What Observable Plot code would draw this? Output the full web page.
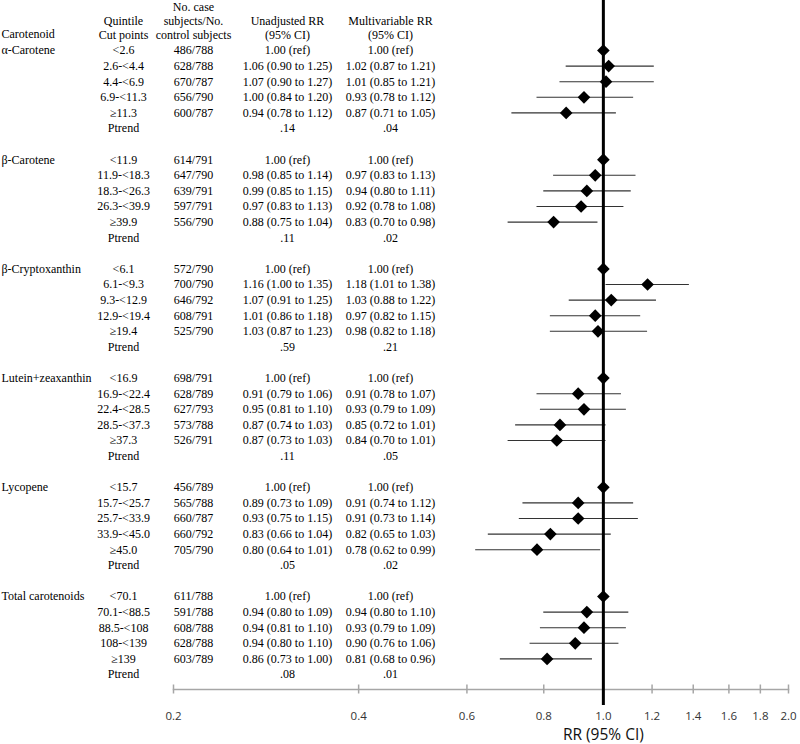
<!DOCTYPE html>
<html>
<head>
<meta charset="utf-8">
<script src="https://cdn.jsdelivr.net/npm/d3@7"></script>
<script src="https://cdn.jsdelivr.net/npm/@observablehq/plot@0.6"></script>
<style>
  html, body { margin: 0; padding: 0; background: #fff; }
  #chart svg { display: block; }
</style>
</head>
<body>
<div id="chart"></div>
<script>
const carotenoids = ["α-Carotene", "β-Carotene", "β-Cryptoxanthin", "Lutein+zeaxanthin", "Lycopene", "Total carotenoids"];

const cutPoints = [
  ["<2.6", "2.6-<4.4", "4.4-<6.9", "6.9-<11.3", "≥11.3"],
  ["<11.9", "11.9-<18.3", "18.3-<26.3", "26.3-<39.9", "≥39.9"],
  ["<6.1", "6.1-<9.3", "9.3-<12.9", "12.9-<19.4", "≥19.4"],
  ["<16.9", "16.9-<22.4", "22.4-<28.5", "28.5-<37.3", "≥37.3"],
  ["<15.7", "15.7-<25.7", "25.7-<33.9", "33.9-<45.0", "≥45.0"],
  ["<70.1", "70.1-<88.5", "88.5-<108", "108-<139", "≥139"]
];

const caseControl = [
  ["486/788", "628/788", "670/787", "656/790", "600/787"],
  ["614/791", "647/790", "639/791", "597/791", "556/790"],
  ["572/790", "700/790", "646/792", "608/791", "525/790"],
  ["698/791", "628/789", "627/793", "573/788", "526/791"],
  ["456/789", "565/788", "660/787", "660/792", "705/790"],
  ["611/788", "591/788", "608/788", "628/788", "603/789"]
];

const unadjRR = [
  [1.00, 1.06, 1.07, 1.00, 0.94],
  [1.00, 0.98, 0.99, 0.97, 0.88],
  [1.00, 1.16, 1.07, 1.01, 1.03],
  [1.00, 0.91, 0.95, 0.87, 0.87],
  [1.00, 0.89, 0.93, 0.83, 0.80],
  [1.00, 0.94, 0.94, 0.94, 0.86]
];
const unadjLow = [
  [null, 0.90, 0.90, 0.84, 0.78],
  [null, 0.85, 0.85, 0.83, 0.75],
  [null, 1.00, 0.91, 0.86, 0.87],
  [null, 0.79, 0.81, 0.74, 0.73],
  [null, 0.73, 0.75, 0.66, 0.64],
  [null, 0.80, 0.81, 0.80, 0.73]
];
const unadjHigh = [
  [null, 1.25, 1.27, 1.20, 1.12],
  [null, 1.14, 1.15, 1.13, 1.04],
  [null, 1.35, 1.25, 1.18, 1.23],
  [null, 1.06, 1.10, 1.03, 1.03],
  [null, 1.09, 1.15, 1.04, 1.01],
  [null, 1.09, 1.10, 1.10, 1.00]
];

const multiRR = [
  [1.00, 1.02, 1.01, 0.93, 0.87],
  [1.00, 0.97, 0.94, 0.92, 0.83],
  [1.00, 1.18, 1.03, 0.97, 0.98],
  [1.00, 0.91, 0.93, 0.85, 0.84],
  [1.00, 0.91, 0.91, 0.82, 0.78],
  [1.00, 0.94, 0.93, 0.90, 0.81]
];
const multiLow = [
  [null, 0.87, 0.85, 0.78, 0.71],
  [null, 0.83, 0.80, 0.78, 0.70],
  [null, 1.01, 0.88, 0.82, 0.82],
  [null, 0.78, 0.79, 0.72, 0.70],
  [null, 0.74, 0.73, 0.65, 0.62],
  [null, 0.80, 0.79, 0.76, 0.68]
];
const multiHigh = [
  [null, 1.21, 1.21, 1.12, 1.05],
  [null, 1.13, 1.11, 1.08, 0.98],
  [null, 1.38, 1.22, 1.15, 1.18],
  [null, 1.07, 1.09, 1.01, 1.01],
  [null, 1.12, 1.14, 1.03, 0.99],
  [null, 1.10, 1.09, 1.06, 0.96]
];

const pTrendUnadj = [0.14, 0.11, 0.59, 0.11, 0.05, 0.08];
const pTrendMulti = [0.04, 0.02, 0.21, 0.05, 0.02, 0.01];

const xTicks = [0.2, 0.4, 0.6, 0.8, 1.0, 1.2, 1.4, 1.6, 1.8, 2.0];
const xLabel = "RR (95% CI)";

const headerCarotenoid = "Carotenoid";
const headerQuintile = "Quintile\nCut points";
const headerCases = "No. case\nsubjects/No.\ncontrol subjects";
const headerUnadj = "Unadjusted RR\n(95% CI)";
const headerMulti = "Multivariable RR\n(95% CI)";
const pTrendLabel = "Ptrend";

// ---- build table ----
const f2 = d3.format(".2f");
const rrText = (rr, lo, hi) => lo == null ? `${f2(rr)} (ref)` : `${f2(rr)} (${f2(lo)} to ${f2(hi)})`;
const pText = p => f2(p).replace(/^0/, "");

const rowsPerGroup = 7; // 5 quintiles + Ptrend + blank
const rows = [];
const ptrendRows = [];
carotenoids.forEach((name, g) => {
  cutPoints[g].forEach((cut, r) => {
    rows.push({
      row: g * rowsPerGroup + r,
      name: r === 0 ? name : "",
      cut,
      cases: caseControl[g][r],
      unadj: rrText(unadjRR[g][r], unadjLow[g][r], unadjHigh[g][r]),
      multi: rrText(multiRR[g][r], multiLow[g][r], multiHigh[g][r]),
      rr: multiRR[g][r],
      lo: multiLow[g][r],
      hi: multiHigh[g][r]
    });
  });
  ptrendRows.push({
    row: g * rowsPerGroup + 5,
    label: pTrendLabel,
    pu: pText(pTrendUnadj[g]),
    pm: pText(pTrendMulti[g])
  });
});
const ciRows = rows.filter(d => d.lo != null);

const serif = "Liberation Serif";
const sans = "Open Sans";
const tx = {fontFamily: serif, fontSize: 12, fill: "#000", textAnchor: "middle"};

// column centres relative to frame left (x = 173)
const colName = -172, colCut = -50, colCases = 20, colUnadj = 114, colMulti = 217;

const chart = Plot.plot({
  width: 800,
  height: 744,
  marginLeft: 173,
  marginRight: 12,
  marginTop: 0,
  marginBottom: 55,
  x: {type: "log", domain: [0.2, 2]},
  y: {domain: [0, 40], range: [50, 674], axis: null},
  style: {background: "#fff", overflow: "visible"},
  marks: [
    // axis baseline + ticks
    Plot.frame({anchor: "bottom", stroke: "#a6a6a6", strokeWidth: 1.5}),
    Plot.ruleX(xTicks, {stroke: "#a6a6a6", strokeWidth: 1.5, insetTop: 684.5, insetBottom: -4.5}),
    Plot.axisX({ticks: xTicks, tickFormat: d3.format(".1f"), tickSize: 0, tickPadding: 22,
      label: null, fontFamily: sans, fontSize: 11.5, color: "#333"}),
    Plot.text([xLabel], {x: () => 1, text: d => d, frameAnchor: "bottom", dy: 46, lineAnchor: "middle",
      fontFamily: sans, fontSize: 15.5, fill: "#111"}),

    // CI lines
    Plot.ruleY(ciRows, {y: "row", x1: "lo", x2: "hi", stroke: "#333", strokeWidth: 1.1}),
    // reference line at RR = 1
    Plot.ruleX([1], {stroke: "#000", strokeWidth: 3, insetBottom: -16}),
    // point estimates
    Plot.dot(rows, {x: "rr", y: "row", symbol: "diamond2", r: 5.7, fill: "#000", stroke: null}),

    // headers
    Plot.text([headerCarotenoid], {text: d => d, frameAnchor: "top-left", dx: colName, dy: 28.5, lineAnchor: "top", ...tx, textAnchor: "start"}),
    Plot.text([headerQuintile], {text: d => d, frameAnchor: "top-left", dx: colCut, dy: 14.5, lineAnchor: "top", lineHeight: 14 / 12, ...tx}),
    Plot.text([headerCases], {text: d => d, frameAnchor: "top-left", dx: colCases, dy: 0.5, lineAnchor: "top", lineHeight: 14 / 12, ...tx}),
    Plot.text([headerUnadj], {text: d => d, frameAnchor: "top-left", dx: colUnadj, dy: 14.5, lineAnchor: "top", lineHeight: 14 / 12, ...tx}),
    Plot.text([headerMulti], {text: d => d, frameAnchor: "top-left", dx: colMulti, dy: 14.5, lineAnchor: "top", lineHeight: 14 / 12, ...tx}),

    // table body
    Plot.text(rows, {y: "row", text: "name", frameAnchor: "left", dx: colName, ...tx, textAnchor: "start"}),
    Plot.text(rows, {y: "row", text: "cut", frameAnchor: "left", dx: colCut, ...tx}),
    Plot.text(rows, {y: "row", text: "cases", frameAnchor: "left", dx: colCases, ...tx}),
    Plot.text(rows, {y: "row", text: "unadj", frameAnchor: "left", dx: colUnadj, ...tx}),
    Plot.text(rows, {y: "row", text: "multi", frameAnchor: "left", dx: colMulti, ...tx}),
    Plot.text(ptrendRows, {y: "row", text: "label", frameAnchor: "left", dx: colCut, ...tx}),
    Plot.text(ptrendRows, {y: "row", text: "pu", frameAnchor: "left", dx: colUnadj, ...tx}),
    Plot.text(ptrendRows, {y: "row", text: "pm", frameAnchor: "left", dx: colMulti, ...tx})
  ]
});
document.getElementById("chart").appendChild(chart);
</script>
</body>
</html>
